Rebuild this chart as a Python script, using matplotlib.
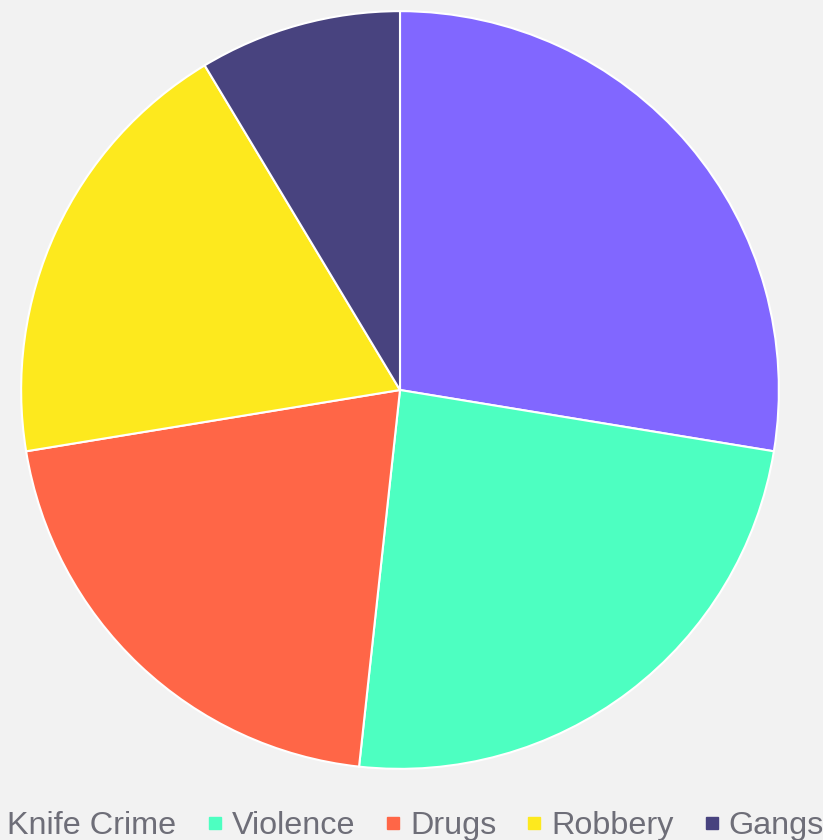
import matplotlib.pyplot as plt
from matplotlib.lines import Line2D

categories = ["Knife Crime", "Violence", "Drugs", "Robbery", "Gangs"]
values = [32, 28, 24, 22, 10]
colors = ["#8167ff", "#4dffc1", "#ff6647", "#fde91e", "#48437f"]

fig = plt.figure(figsize=(8.23, 8.40), dpi=100)
fig.patch.set_facecolor("#f2f2f2")
plt.rcParams["font.family"] = ["Liberation Sans", "DejaVu Sans"]

ax = fig.add_axes([20 / 823, 70 / 840, 760 / 823, 760 / 840])
ax.pie(values, colors=colors, startangle=90, counterclock=False, radius=1,
       wedgeprops=dict(edgecolor="white", linewidth=1.5))
ax.set_xlim(-1.003, 1.003)
ax.set_ylim(-1.003, 1.003)
ax.set_aspect("equal")

handles = [Line2D([], [], linestyle="none", marker="s", markersize=8,
                  markerfacecolor=c, markeredgecolor=c) for c in colors]
leg = fig.legend(handles, categories, loc="upper center", ncol=5,
                 bbox_to_anchor=(404 / 823, 1 - 811 / 840), frameon=False,
                 fontsize=23.3, handlelength=0.4, handletextpad=0.32,
                 columnspacing=0.98, borderpad=0, borderaxespad=0)
for t in leg.get_texts():
    t.set_color("#6e6e78")

fig.savefig("out.png", facecolor=fig.get_facecolor())
